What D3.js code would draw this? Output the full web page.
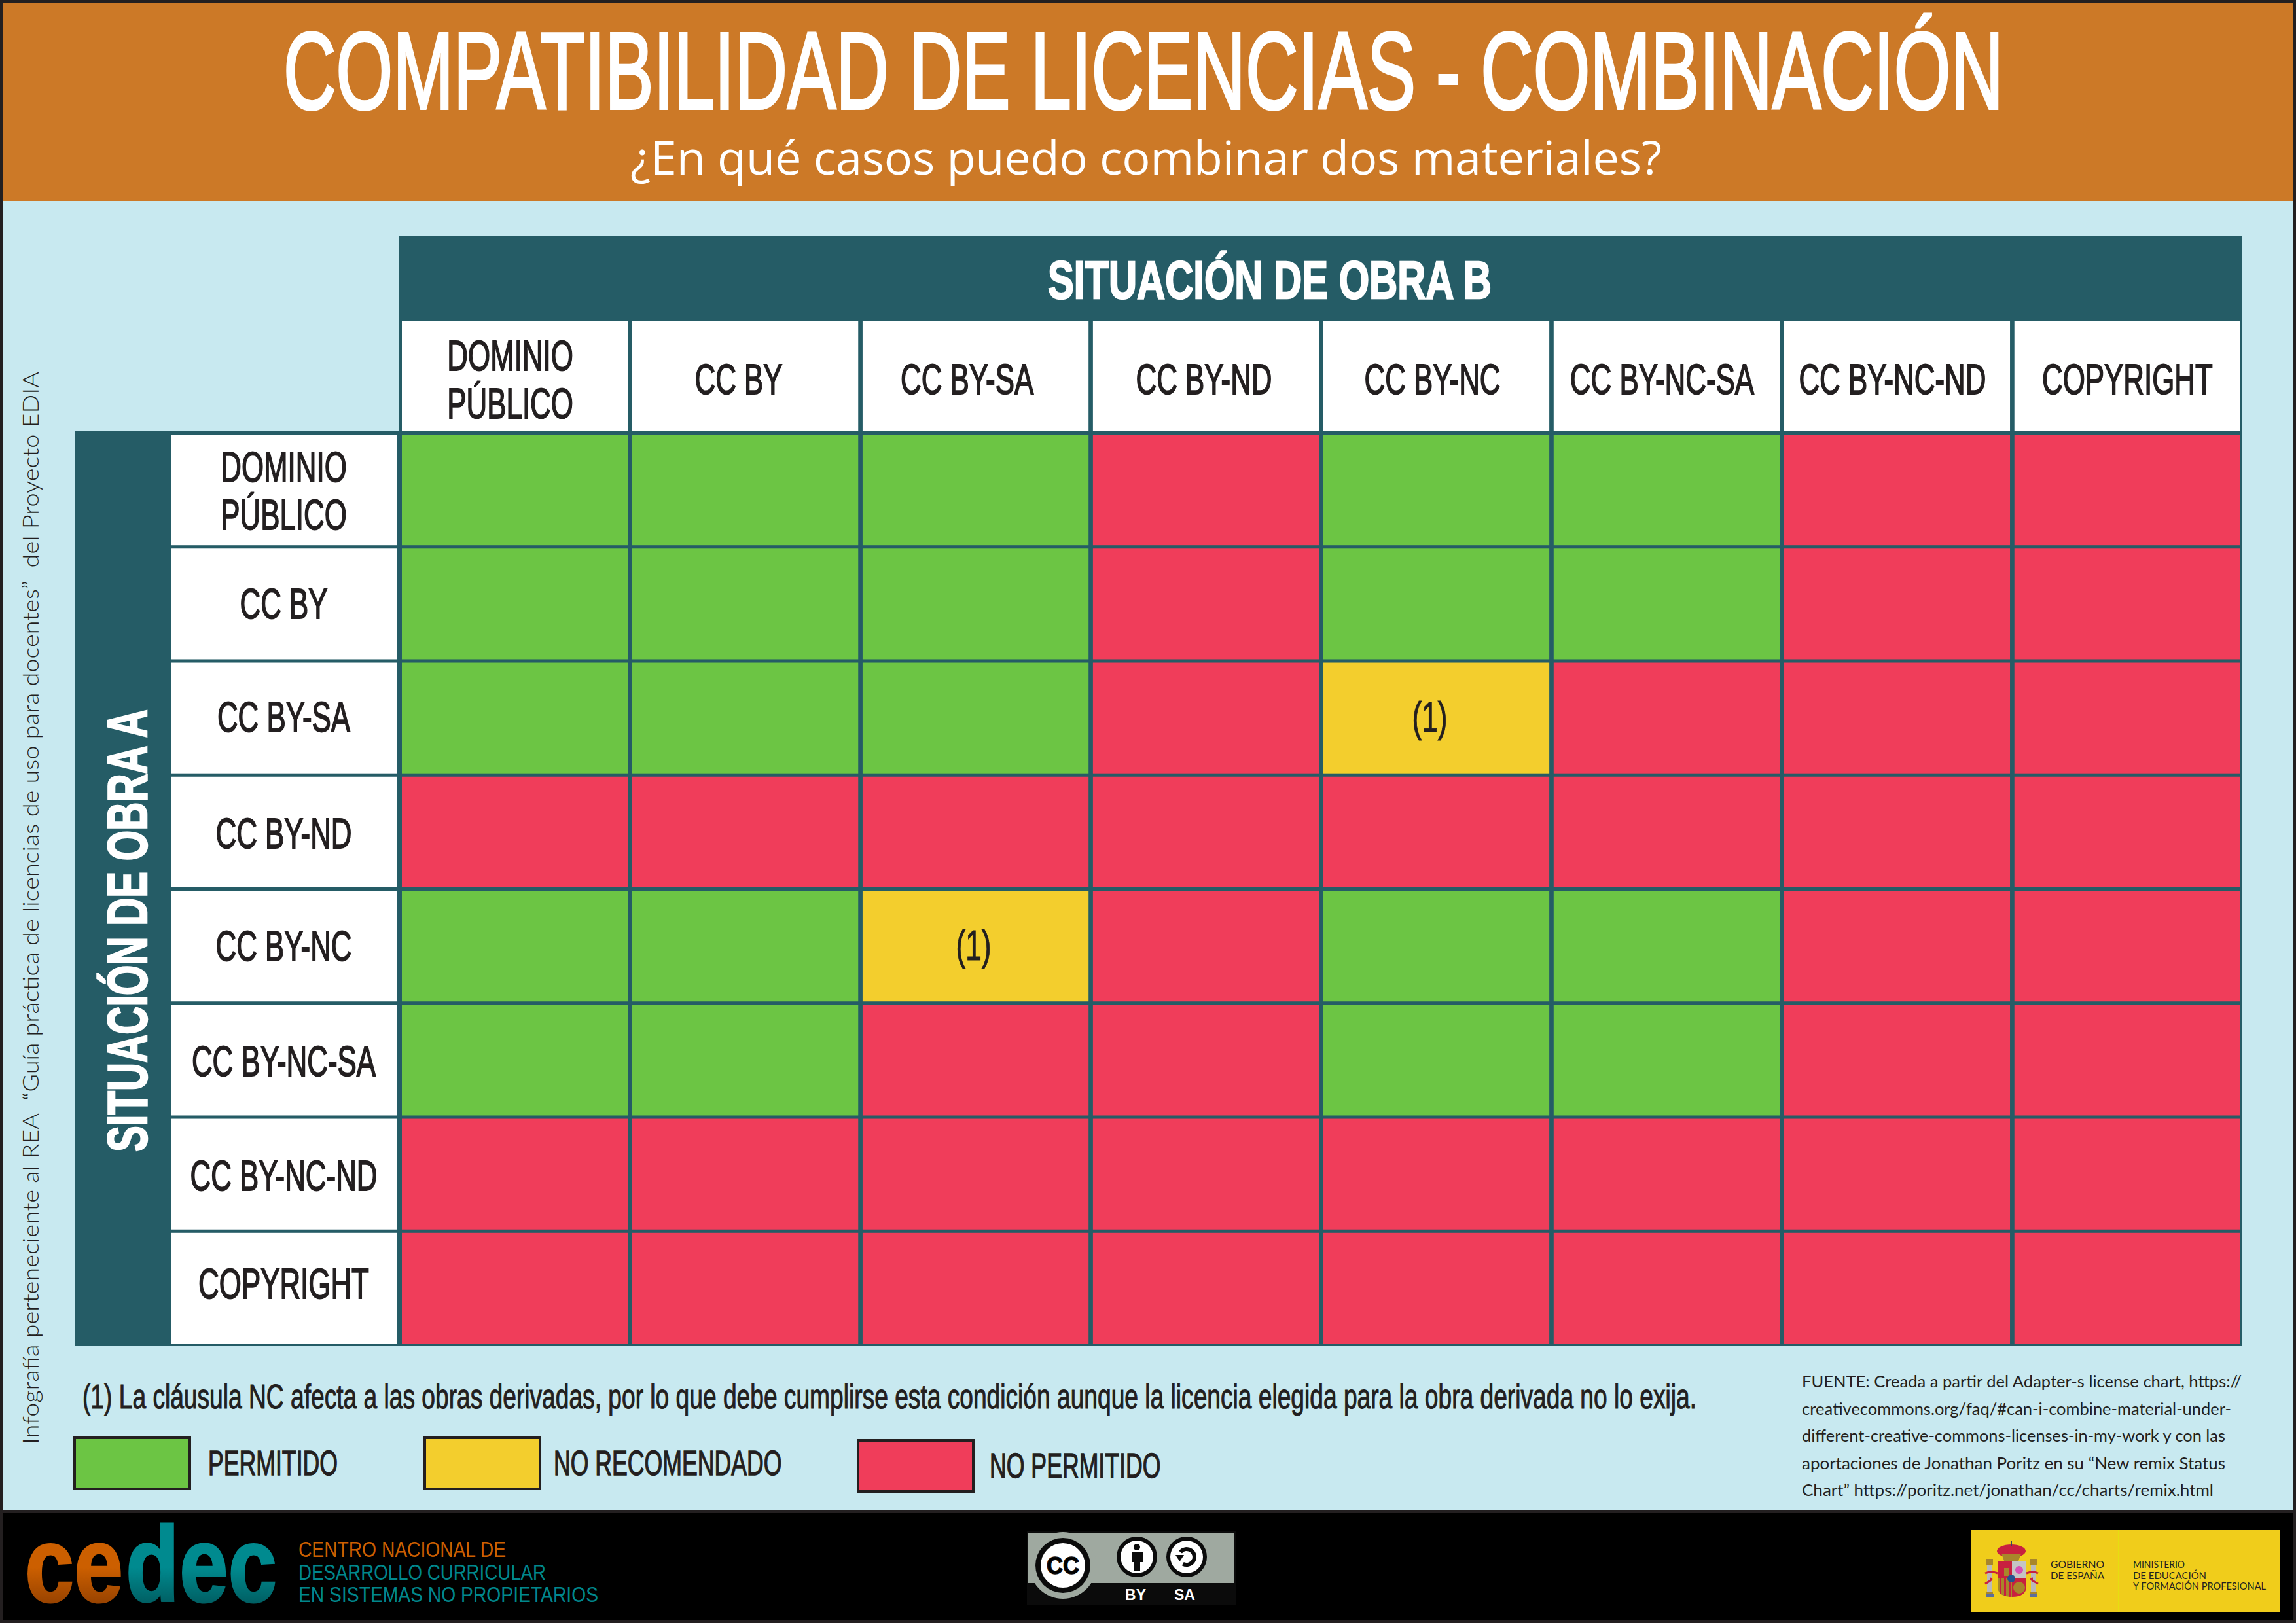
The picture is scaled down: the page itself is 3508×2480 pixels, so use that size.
<!DOCTYPE html>
<html lang="es">
<head>
<meta charset="utf-8">
<title>Compatibilidad de licencias - combinación</title>
<script src="https://cdn.jsdelivr.net/npm/d3@7"></script>
<style>
  html, body { margin: 0; padding: 0; background: #231f20; }
  svg { display: block; }
  text { white-space: pre; }
</style>
</head>
<body>
<svg id="chart" width="3508" height="2480"></svg>
<script>
var columns = ['DOMINIO PÚBLICO', 'CC BY', 'CC BY-SA', 'CC BY-ND', 'CC BY-NC', 'CC BY-NC-SA', 'CC BY-NC-ND', 'COPYRIGHT']
var rows = ['DOMINIO PÚBLICO', 'CC BY', 'CC BY-SA', 'CC BY-ND', 'CC BY-NC', 'CC BY-NC-SA', 'CC BY-NC-ND', 'COPYRIGHT']

// P permitido, R no recomendado, N no permitido
var statusDominio = ['P', 'P', 'P', 'N', 'P', 'P', 'N', 'N']
var statusBy = ['P', 'P', 'P', 'N', 'P', 'P', 'N', 'N']
var statusBySa = ['P', 'P', 'P', 'N', 'R', 'N', 'N', 'N']
var statusByNd = ['N', 'N', 'N', 'N', 'N', 'N', 'N', 'N']
var statusByNc = ['P', 'P', 'R', 'N', 'P', 'P', 'N', 'N']
var statusByNcSa = ['P', 'P', 'N', 'N', 'P', 'P', 'N', 'N']
var statusByNcNd = ['N', 'N', 'N', 'N', 'N', 'N', 'N', 'N']
var statusCopyright = ['N', 'N', 'N', 'N', 'N', 'N', 'N', 'N']
var matrix = [statusDominio, statusBy, statusBySa, statusByNd, statusByNc, statusByNcSa, statusByNcNd, statusCopyright]

var legendKeys = ['P', 'R', 'N']
var legendLabels = ['PERMITIDO', 'NO RECOMENDADO', 'NO PERMITIDO']

var sourceLines = [
  'FUENTE: Creada a partir del Adapter-s license chart, https://',
  'creativecommons.org/faq/#can-i-combine-material-under-',
  'different-creative-commons-licenses-in-my-work y con las',
  'aportaciones de Jonathan Poritz en su “New remix Status',
  'Chart” https://poritz.net/jonathan/cc/charts/remix.html'
]
var centerLines = ['CENTRO NACIONAL DE', 'DESARROLLO CURRICULAR', 'EN SISTEMAS NO PROPIETARIOS']

var colors = {
  frame: '#231f20', orange: '#cc7927', sky: '#c8e9f0', teal: '#255c66', ink: '#231f20',
  green: '#6cc544', yellow: '#f3ce2d', red: '#f03d5a'
}
var narrow = '"Liberation Sans", sans-serif'

var svg = d3.select('#chart')

var x = d3.scaleBand().domain(columns).range([614, 3423]).paddingInner(0.019)
var y = d3.scaleBand().domain(rows).range([664, 2053]).paddingInner(0.029)
var color = d3.scaleOrdinal().domain(legendKeys).range([colors.green, colors.yellow, colors.red])

// stretch or squeeze a text to an exact width
function fit(sel, width) {
  return sel.attr('textLength', width).attr('lengthAdjust', 'spacingAndGlyphs')
}

// the source uses a condensed face, so squeeze the plain one to match
function condense(sel, k) {
  return sel.each(function() {
    d3.select(this).attr('textLength', this.getComputedTextLength() * k).attr('lengthAdjust', 'spacingAndGlyphs')
  })
}

function rect(g, x0, y0, x1, y1, fill) {
  return g.append('rect').attr('x', x0).attr('y', y0).attr('width', x1 - x0).attr('height', y1 - y0).attr('fill', fill)
}

// ---- page frame
rect(svg, 0, 0, 3508, 2480, colors.frame)
rect(svg, 4, 5, 3503, 307, colors.orange)
rect(svg, 4, 307, 3503, 2307, colors.sky)
rect(svg, 4, 2312, 3503, 2476, '#000')

svg.append('text').attr('x', 433).attr('y', 166)
  .attr('font-family', narrow).attr('font-size', 167)
  .attr('fill', '#fff').attr('stroke', '#fff').attr('stroke-width', 4)
  .text('COMPATIBILIDAD DE LICENCIAS - COMBINACIÓN')
  .call(fit, 2628)

svg.append('text').attr('x', 963).attr('y', 267)
  .attr('font-family', '"Open Sans", sans-serif').attr('font-size', 72).attr('fill', '#fff')
  .attr('textLength', 1576).attr('lengthAdjust', 'spacing')
  .text('¿En qué casos puedo combinar dos materiales?')

// ---- table frame
rect(svg, 609, 360, 3425, 2057, colors.teal)
rect(svg, 114, 659, 614, 2057, colors.teal)

svg.append('text').attr('x', 1601).attr('y', 456)
  .attr('font-family', narrow).attr('font-weight', 700).attr('font-size', 82)
  .attr('fill', '#fff').attr('stroke', '#fff').attr('stroke-width', 2.5)
  .text('SITUACIÓN DE OBRA B')
  .call(fit, 678)

svg.append('text').attr('transform', 'translate(224,1760) rotate(-90)')
  .attr('font-family', narrow).attr('font-weight', 700).attr('font-size', 86)
  .attr('fill', '#fff').attr('stroke', '#fff').attr('stroke-width', 2.5)
  .text('SITUACIÓN DE OBRA A')
  .call(fit, 676)

// ---- column heads
var colNudge = [-7, -10, -13, -3, -6, -7, -7, 0]
var colHeads = svg.append('g').selectAll('g').data(columns).enter().append('g')
colHeads.append('rect')
  .attr('x', function(d) { return x(d) })
  .attr('y', 490)
  .attr('width', x.bandwidth())
  .attr('height', 169)
  .attr('fill', '#fff')

function headLines(sel, cx, baselines) {
  sel.each(function(d, i) {
    var g = d3.select(this)
    var words = d === 'DOMINIO PÚBLICO' ? ['DOMINIO', 'PÚBLICO'] : [d]
    words.forEach(function(w, j) {
      g.append('text')
        .attr('x', cx(d, i))
        .attr('y', baselines(d, i, words.length, j))
        .attr('text-anchor', 'middle')
        .attr('font-family', narrow).attr('font-size', 65)
        .attr('fill', colors.ink).attr('stroke', colors.ink).attr('stroke-width', 1.8)
        .text(w)
        .call(condense, 0.675)
    })
  })
}

colHeads.call(headLines,
  function(d, i) { return x(d) + x.bandwidth() / 2 + colNudge[i] },
  function(d, i, n, j) { return n === 2 ? 566 + j * 73 : 602 })

// ---- row heads
var rowDy = [72, 107, 105, 109, 107, 109, 109, 100]
var rowHeads = svg.append('g').selectAll('g').data(rows).enter().append('g')
rowHeads.append('rect')
  .attr('x', 261)
  .attr('y', function(d) { return y(d) })
  .attr('width', 345)
  .attr('height', y.bandwidth())
  .attr('fill', '#fff')

rowHeads.call(headLines,
  function() { return 433.5 },
  function(d, i, n, j) { return y(d) + rowDy[i] + j * 73 })

// ---- cells
var cells = []
matrix.forEach(function(values, r) {
  values.forEach(function(v, c) {
    cells.push({ row: rows[r], col: columns[c], status: v })
  })
})

svg.append('g').selectAll('rect').data(cells).enter().append('rect')
  .attr('x', function(d) { return x(d.col) })
  .attr('y', function(d) { return y(d.row) })
  .attr('width', x.bandwidth())
  .attr('height', y.bandwidth())
  .attr('fill', function(d) { return color(d.status) })

svg.append('g').selectAll('text')
  .data(cells.filter(function(d) { return d.status === 'R' }))
  .enter().append('text')
  .attr('x', function(d) { return x(d.col) + x.bandwidth() / 2 + (d.col === 'CC BY-NC' ? -10 : -3) })
  .attr('y', function(d) { return y(d.row) + y.bandwidth() / 2 + 21 })
  .attr('text-anchor', 'middle')
  .attr('font-family', narrow).attr('font-size', 65)
  .attr('fill', colors.ink).attr('stroke', colors.ink).attr('stroke-width', 1.2)
  .text('(1)')
  .call(condense, 0.68)

// ---- footnote
svg.append('text').attr('x', 126).attr('y', 2152)
  .attr('font-family', narrow).attr('font-size', 51)
  .attr('fill', colors.ink).attr('stroke', colors.ink).attr('stroke-width', 1.1)
  .text('(1) La cláusula NC afecta a las obras derivadas, por lo que debe cumplirse esta condición aunque la licencia elegida para la obra derivada no lo exija.')
  .call(fit, 2466)

// ---- legend
var legendBox = d3.scaleOrdinal().domain(legendKeys).range([114, 649, 1311])
var legendDy = d3.scaleOrdinal().domain(legendKeys).range([0, 0, 4])
var legendGap = d3.scaleOrdinal().domain(legendKeys).range([26, 19, 23])
var legendItems = svg.append('g').selectAll('g').data(legendKeys).enter().append('g')
legendItems.append('rect')
  .attr('x', function(d) { return legendBox(d) })
  .attr('y', function(d) { return 2197 + legendDy(d) })
  .attr('width', 176)
  .attr('height', 78)
  .attr('fill', function(d) { return color(d) })
  .attr('stroke', colors.ink)
  .attr('stroke-width', 4)
legendItems.append('text')
  .attr('x', function(d) { return legendBox(d) + 176 + 2 + legendGap(d) })
  .attr('y', function(d) { return 2254 + legendDy(d) })
  .attr('font-family', narrow).attr('font-size', 54)
  .attr('fill', colors.ink).attr('stroke', colors.ink).attr('stroke-width', 1.4)
  .text(function(d, i) { return legendLabels[i] })
  .call(condense, 0.66)

// ---- credit on the left edge
svg.append('text').attr('transform', 'translate(59,2207) rotate(-90)')
  .attr('font-family', 'Lato, sans-serif').attr('font-weight', 300).attr('font-size', 34).attr('fill', '#231f20')
  .text('Infografía perteneciente al REA  “Guía práctica de licencias de uso para docentes”  del Proyecto EDIA')
  .call(fit, 1639)

// ---- source
var sourceWidths = [672, 656, 647, 647, 629]
svg.append('g').selectAll('text').data(sourceLines).enter().append('text')
  .attr('x', 2753)
  .attr('y', function(d, i) { return 2120 + i * 41.5 })
  .attr('font-family', 'Lato, sans-serif').attr('font-size', 25).attr('fill', colors.ink)
  .text(function(d) { return d })
  .each(function(d, i) { d3.select(this).call(fit, sourceWidths[i]) })

// ---- footer: cedec
var defs = svg.append('defs')
function fade(id, top, bottom) {
  var g = defs.append('linearGradient').attr('id', id).attr('gradientUnits', 'userSpaceOnUse')
    .attr('x1', 0).attr('x2', 0).attr('y1', 2395).attr('y2', 2450)
  g.append('stop').attr('offset', 0).attr('stop-color', top)
  g.append('stop').attr('offset', 1).attr('stop-color', bottom)
}
fade('fadeOrange', '#cc5f00', '#984300')
fade('fadeTeal', '#008a8f', '#005f63')

svg.append('text').attr('x', 38).attr('y', 2447)
  .attr('font-family', narrow).attr('font-weight', 700).attr('font-size', 163)
  .attr('fill', 'url(#fadeOrange)').attr('stroke', 'url(#fadeOrange)').attr('stroke-width', 3)
  .text('ce').call(fit, 150)
svg.append('text').attr('x', 192).attr('y', 2447)
  .attr('font-family', narrow).attr('font-weight', 700).attr('font-size', 163)
  .attr('fill', 'url(#fadeTeal)').attr('stroke', 'url(#fadeTeal)').attr('stroke-width', 3)
  .text('dec').call(fit, 231)

var centerWidths = [317, 378, 458]
svg.append('g').selectAll('text').data(centerLines).enter().append('text')
  .attr('x', 456)
  .attr('y', function(d, i) { return 2379 + i * 34.5 })
  .attr('font-family', narrow).attr('font-size', 34)
  .attr('fill', function(d, i) { return i === 0 ? '#cc5f00' : '#00878c' })
  .text(function(d) { return d })
  .each(function(d, i) { d3.select(this).call(fit, centerWidths[i]) })

// ---- footer: cc by-sa badge
var badge = svg.append('g')
rect(badge, 1569, 2340, 1888, 2453, '#0b0b0b')
rect(badge, 1571, 2342, 1886, 2419, '#9fa9a0')
defs.append('clipPath').attr('id', 'badgeClip').append('rect')
  .attr('x', 1569).attr('y', 2340).attr('width', 319).attr('height', 113)
badge.append('circle').attr('cx', 1624).attr('cy', 2392).attr('r', 51).attr('fill', '#9fa9a0').attr('clip-path', 'url(#badgeClip)')
badge.append('circle').attr('cx', 1624).attr('cy', 2392).attr('r', 42).attr('fill', '#0b0b0b')
badge.append('circle').attr('cx', 1624).attr('cy', 2392).attr('r', 34).attr('fill', '#fff')
badge.append('text').attr('x', 1624).attr('y', 2405).attr('text-anchor', 'middle')
  .attr('font-family', '"Liberation Sans", sans-serif').attr('font-weight', 700).attr('font-size', 36)
  .attr('stroke', '#0b0b0b').attr('stroke-width', 1.5)
  .text('CC').call(fit, 50)

;[1737, 1813].forEach(function(cx) {
  badge.append('circle').attr('cx', cx).attr('cy', 2379).attr('r', 31).attr('fill', '#0b0b0b')
  badge.append('circle').attr('cx', cx).attr('cy', 2379).attr('r', 25).attr('fill', '#fff')
})
badge.append('circle').attr('cx', 1737).attr('cy', 2364).attr('r', 5).attr('fill', '#0b0b0b')
rect(badge, 1729, 2371, 1746, 2387, '#0b0b0b')
rect(badge, 1733, 2387, 1742, 2400, '#0b0b0b')
badge.append('path')
  .attr('transform', 'translate(1813,2379)')
  .attr('d', d3.arc().innerRadius(9).outerRadius(15).startAngle(-0.9).endAngle(Math.PI + 0.5)())
  .attr('fill', '#0b0b0b')
badge.append('path').attr('d', 'M1796,2376 L1809,2376 L1802.5,2386 Z').attr('fill', '#0b0b0b')
badge.append('g').selectAll('text').data(['BY', 'SA']).enter().append('text')
  .attr('x', function(d, i) { return i === 0 ? 1735 : 1810 })
  .attr('y', 2445)
  .attr('text-anchor', 'middle')
  .attr('font-family', '"Liberation Sans", sans-serif').attr('font-weight', 700).attr('font-size', 23).attr('fill', '#fff')
  .text(function(d) { return d })

// ---- footer: gobierno de espana
var gob = svg.append('g')
rect(gob, 3012, 2338, 3483, 2463, '#f0cd1b')
rect(gob, 3236, 2338, 3238, 2463, '#e6de10')

// pillars
;[3040, 3107].forEach(function(cx) {
  rect(gob, cx - 4, 2392, cx + 4, 2432, '#b9b9b9')
  rect(gob, cx - 5, 2382, cx + 5, 2392, '#a8862a')
  rect(gob, cx - 5, 2432, cx + 5, 2436, '#a8862a')
  rect(gob, cx - 6, 2435, cx + 6, 2441, '#5c6f9c')
})
// crown
gob.append('ellipse').attr('cx', 3073).attr('cy', 2370).attr('rx', 22).attr('ry', 10).attr('fill', '#c8203f')
gob.append('path').attr('d', 'M3058,2374 L3088,2374 L3084,2385 L3062,2385 Z').attr('fill', '#a8862a')
rect(gob, 3072, 2354, 3074, 2362, '#33495f')
// shield
defs.append('clipPath').attr('id', 'shieldClip').append('path')
  .attr('d', 'M3052,2386 L3096,2386 L3096,2424 Q3096,2440 3074,2440 Q3052,2440 3052,2424 Z')
var shield = gob.append('g').attr('clip-path', 'url(#shieldClip)')
rect(shield, 3052, 2386, 3074, 2412, '#c8203f')
rect(shield, 3074, 2386, 3096, 2412, '#c4c4c4')
rect(shield, 3052, 2412, 3074, 2440, '#a8862a')
rect(shield, 3074, 2412, 3096, 2440, '#c8203f')
d3.range(3).forEach(function(i) { rect(shield, 3055 + i * 7, 2412, 3058 + i * 7, 2440, '#c8203f') })
rect(shield, 3062, 2396, 3069, 2408, '#a8862a')
shield.append('circle').attr('cx', 3085).attr('cy', 2399).attr('r', 6).attr('fill', '#d64fb4')
shield.append('circle').attr('cx', 3085).attr('cy', 2426).attr('r', 9).attr('fill', '#a8862a')
gob.append('circle').attr('cx', 3073).attr('cy', 2412).attr('r', 6).attr('fill', '#24528f')
// ribbons
gob.append('path').attr('d', 'M3033,2404 Q3042,2400 3052,2404 M3040,2412 Q3048,2412 3033,2420 M3096,2404 Q3106,2400 3114,2404 M3106,2412 Q3098,2412 3114,2420')
  .attr('fill', 'none').attr('stroke', '#c8203f').attr('stroke-width', 3)

var gobLines = [
  ['GOBIERNO', 3133, 2396, 82], ['DE ESPAÑA', 3133, 2413, 82],
  ['MINISTERIO', 3259, 2396, 79], ['DE EDUCACIÓN', 3259, 2413, 112], ['Y FORMACIÓN PROFESIONAL', 3259, 2429, 203]
]
gob.append('g').selectAll('text').data(gobLines).enter().append('text')
  .attr('x', function(d) { return d[1] })
  .attr('y', function(d) { return d[2] })
  .attr('font-family', 'Lato, sans-serif').attr('font-size', 16).attr('fill', colors.ink)
  .text(function(d) { return d[0] })
  .each(function(d) { d3.select(this).call(fit, d[3]) })
</script>
</body>
</html>
